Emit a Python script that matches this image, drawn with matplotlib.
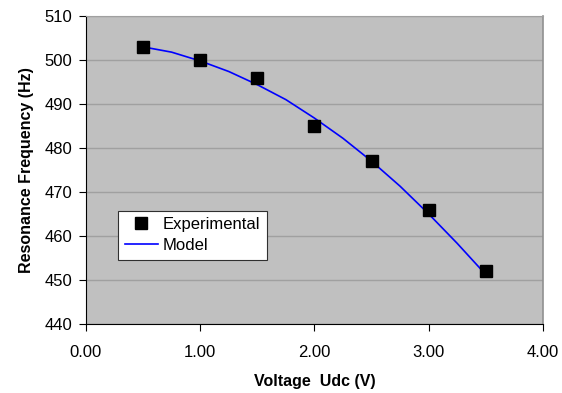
import matplotlib.pyplot as plt

plt.rcParams['font.family'] = ['Liberation Sans', 'DejaVu Sans']

# experimental points
voltage = [0.5, 1.0, 1.5, 2.0, 2.5, 3.0, 3.5]
freq_exp = [503, 500, 496, 485, 477, 466, 452]

# model curve
volt_model = [0.5, 0.75, 1.0, 1.25, 1.5, 1.75, 2.0, 2.25, 2.5, 2.75, 3.0, 3.25, 3.5]
freq_model = [503, 501.8, 499.8, 497.4, 494.4, 491.0, 486.8, 482.2, 477.0, 471.3, 465.0, 458.3, 451.2]

xticks = [0, 1, 2, 3, 4]
yticks = [440, 450, 460, 470, 480, 490, 500, 510]

fig = plt.figure(figsize=(5.62, 3.93), dpi=100)
ax = fig.add_axes([0.153, 0.176, 0.813, 0.783])
ax.set_facecolor('#C0C0C0')

ax.plot(volt_model, freq_model, color='#0000FF', lw=1.2, label='Model', zorder=3)
ax.plot(voltage, freq_exp, 's', color='black', ms=9, label='Experimental', zorder=4)

ax.set_xlim(0, 4)
ax.set_ylim(440, 510)
ax.set_xticks(xticks)
ax.set_xticklabels(['%.2f' % v for v in xticks])
ax.set_yticks(yticks)
ax.yaxis.grid(True, color='#A0A0A0', lw=1.0)
ax.set_axisbelow(True)

ax.spines['top'].set_color('#A0A0A0')
ax.spines['right'].set_color('#909090')
ax.spines['right'].set_linewidth(1.2)
for side in ['left', 'bottom']:
    ax.spines[side].set_color('black')
ax.tick_params(direction='out', length=5, labelsize=12, pad=5)
ax.tick_params(axis='x', pad=10)

ax.set_xlabel('Voltage  Udc (V)', fontsize=11.5, fontweight='bold', labelpad=10)
ax.set_ylabel('Resonance Frequency (Hz)', fontsize=11.5, fontweight='bold', labelpad=7)

h, l = ax.get_legend_handles_labels()
leg = ax.legend(h[::-1], l[::-1], loc='lower left', bbox_to_anchor=(0.070, 0.208),
                borderaxespad=0, fontsize=12, frameon=True, fancybox=False,
                framealpha=1, edgecolor='#303030', handlelength=2.0, borderpad=0.4,
                labelspacing=0.35, handletextpad=0.3)
leg.get_frame().set_linewidth(0.8)

fig.savefig('out.png', dpi=100)
